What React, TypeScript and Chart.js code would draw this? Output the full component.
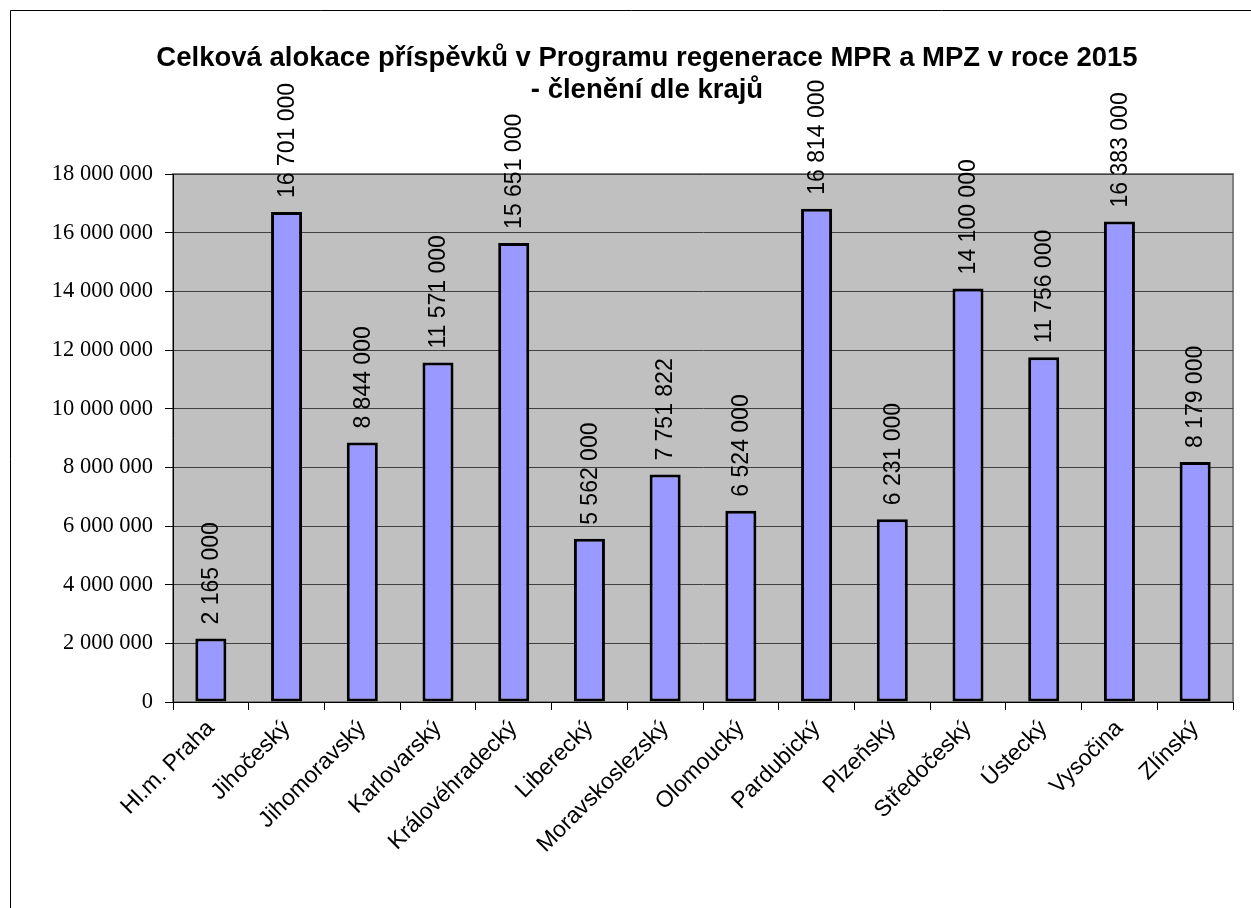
import React, { useEffect, useRef } from "react";
import { Chart, registerables } from "chart.js";

Chart.register(...registerables);

const categories = [
  "Hl.m. Praha",
  "Jihočeský",
  "Jihomoravský",
  "Karlovarský",
  "Královéhradecký",
  "Liberecký",
  "Moravskoslezský",
  "Olomoucký",
  "Pardubický",
  "Plzeňský",
  "Středočeský",
  "Ústecký",
  "Vysočina",
  "Zlínský",
];

const values = [
  2165000, 16701000, 8844000, 11571000, 15651000, 5562000, 7751822, 6524000,
  16814000, 6231000, 14100000, 11756000, 16383000, 8179000,
];

const titleLines = [
  "Celková alokace příspěvků v Programu regenerace MPR a MPZ v roce 2015",
  "- členění dle krajů",
];

const yMin = 0;
const yMax = 18000000;
const yStep = 2000000;

const fmt = (v: number) =>
  Math.round(v)
    .toString()
    .replace(/\B(?=(\d{3})+(?!\d))/g, " ");

const framePlugin = {
  id: "framePlugin",
  beforeDraw(chart: any) {
    const { ctx, chartArea } = chart;
    ctx.save();
    ctx.fillStyle = "#ffffff";
    ctx.fillRect(0, 0, chart.width, chart.height);
    // outer frame
    ctx.strokeStyle = "#000";
    ctx.lineWidth = 1;
    ctx.beginPath();
    ctx.moveTo(10.5, chart.height + 5);
    ctx.lineTo(10.5, 10.5);
    ctx.lineTo(chart.width + 5, 10.5);
    ctx.stroke();
    // plot area
    ctx.fillStyle = "#C0C0C0";
    ctx.fillRect(
      chartArea.left,
      chartArea.top,
      chartArea.right - chartArea.left,
      chartArea.bottom - chartArea.top
    );
    ctx.strokeStyle = "#808080";
    ctx.lineWidth = 2;
    ctx.strokeRect(
      chartArea.left,
      chartArea.top,
      chartArea.right - chartArea.left,
      chartArea.bottom - chartArea.top
    );
    ctx.restore();
  },
  afterDraw(chart: any) {
    const { ctx } = chart;
    ctx.save();
    // title
    ctx.fillStyle = "#000";
    ctx.font = "bold 27.5px 'Liberation Sans', Arial, sans-serif";
    ctx.textAlign = "center";
    ctx.textBaseline = "alphabetic";
    ctx.fillText(titleLines[0], 647, 66);
    ctx.fillText(titleLines[1], 647, 98);
    // data labels
    ctx.font = "23px 'Liberation Sans', Arial, sans-serif";
    ctx.textAlign = "left";
    ctx.textBaseline = "middle";
    const meta = chart.getDatasetMeta(0);
    meta.data.forEach((bar: any, i: number) => {
      ctx.save();
      ctx.translate(bar.x + 1, bar.y - 14);
      ctx.rotate(-Math.PI / 2);
      ctx.fillText(fmt(values[i]), 0, 0);
      ctx.restore();
    });
    ctx.restore();
  },
};

export default function App() {
  const ref = useRef<HTMLCanvasElement>(null);

  useEffect(() => {
    document.body.style.margin = "0";
    const canvas = ref.current;
    if (!canvas) return;
    const chart = new Chart(canvas, {
      type: "bar",
      data: {
        labels: categories,
        datasets: [
          {
            data: values,
            backgroundColor: "#9999FF",
            borderColor: "#000000",
            borderWidth: 3,
            borderSkipped: false,
            categoryPercentage: 1,
            barPercentage: 0.41,
          },
        ],
      },
      options: {
        animation: false,
        responsive: false,
        devicePixelRatio: 1,
        layout: { padding: { left: 0, right: 18, top: 174, bottom: 0 } },
        plugins: {
          legend: { display: false },
          title: { display: false },
          tooltip: { enabled: false },
        },
        scales: {
          x: {
            offset: true,
            grid: {
              offset: true,
              drawOnChartArea: false,
              drawTicks: true,
              tickLength: 8,
              tickColor: "#000",
            },
            border: { color: "#000", width: 1 },
            ticks: {
              color: "#000",
              maxRotation: 45,
              minRotation: 45,
              autoSkip: false,
              padding: 5,
              font: { family: "'Liberation Sans', Arial, sans-serif", size: 23 },
            },
            afterFit(scale: any) {
              scale.height = 206;
            },
          },
          y: {
            min: yMin,
            max: yMax,
            ticks: {
              stepSize: yStep,
              color: "#000",
              padding: 12,
              font: { family: "'Liberation Serif', 'Times New Roman', serif", size: 22.5 },
              callback: (v: any) => fmt(Number(v)),
            },
            grid: {
              color: "#404040",
              lineWidth: 1,
              tickLength: 8,
              tickColor: "#000",
            },
            border: { color: "#000", width: 1 },
            afterFit(scale: any) {
              scale.width = 173;
            },
          },
        },
      },
      plugins: [framePlugin],
    });
    return () => chart.destroy();
  }, []);

  return (
    <div style={{ width: 1251, height: 908 }}>
      <canvas ref={ref} width={1251} height={908} style={{ display: "block" }} />
    </div>
  );
}
